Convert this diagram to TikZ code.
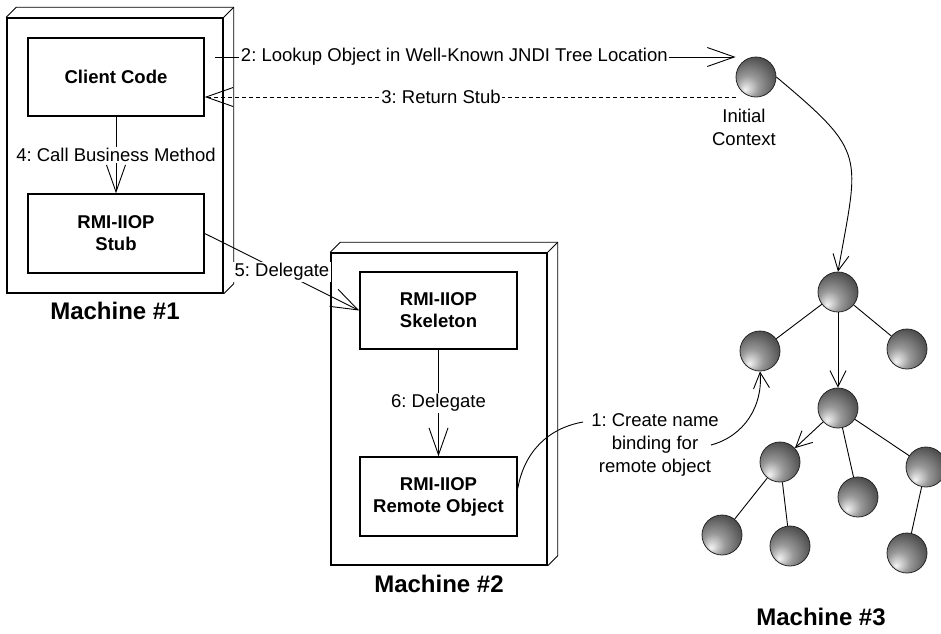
\documentclass[tikz,border=0pt]{standalone}
\usepackage{fontspec}
\setmainfont{Liberation Sans}
\frenchspacing
\usetikzlibrary{positioning,arrows.meta}
\pgfdeclareradialshading{ballshade}{\pgfpoint{-14bp}{-16bp}}{color(0bp)=(black!4); color(14bp)=(black!40); color(36bp)=(black!75); color(56bp)=(black!92)}

\begin{document}
\begin{tikzpicture}[x=1pt, y=1pt,
    box/.style={rectangle, draw, line width=1.5pt, align=center, font=\fontsize{18.5}{22}\selectfont\bfseries},
    machine/.style={rectangle, draw, line width=1.5pt},
    mlabel/.style={font=\fontsize{24}{28}\selectfont\bfseries},
    msg/.style={fill=white, inner sep=1.5pt, font=\fontsize{18.5}{23}\selectfont},
    ball/.style={circle, draw=black!85, line width=0.8pt, minimum size=40pt, inner sep=0pt, shading=ballshade},
    link/.style={line width=0.9pt},
    call/.style={link, -{Straight Barb[length=27pt,width=19pt]}},
    treearr/.style={link, -{Straight Barb[length=16pt,width=16pt]}}]
    \useasboundingbox (0,0) rectangle (941,-633);

    % machines
    \node[machine, minimum width=216pt, minimum height=275pt] (m1) at (115,-155.5) {};
    \node[machine, minimum width=216pt, minimum height=312pt] (m2) at (439,-409) {};
    \foreach \m in {m1,m2} {
        \draw[link] (\m.north west) -- ++(10,10) -- ([shift={(10,10)}]\m.north east)
            -- ([shift={(10,10)}]\m.south east) -- (\m.south east);
        \draw[link] (\m.north east) -- ++(10,10);
    }
    \node[mlabel, below=5pt of m1] (m1lbl) {Machine \#1};
    \node[mlabel, below=6pt of m2] (m2lbl) {Machine \#2};
    \node[mlabel] (m3lbl) at (821,-617) {Machine \#3};

    % components
    \node[box, minimum width=176pt, minimum height=78pt] (client) at (116,-77) {Client Code};
    \node[box, minimum width=176pt, minimum height=79pt] (stub) at (116,-233.5) {RMI-IIOP\\Stub};
    \node[box, minimum width=157pt, minimum height=77pt] (skel) at (438.5,-310.5) {RMI-IIOP\\Skeleton};
    \node[box, minimum width=157pt, minimum height=79pt] (remote) at (438.5,-496.5) {RMI-IIOP\\Remote Object};

    % JNDI tree
    \node[ball] (ctx) at (756,-77) {};
    \node[msg, align=center, fill=none, below=10pt of ctx, xshift=-12pt] (ctxlbl) {Initial\\Context};
    \node[ball] (root) at (838,-292) {};
    \node[ball] (nl) at (760,-351) {};
    \node[ball] (nr) at (907,-349) {};
    \node[ball] (mid) at (838,-408) {};
    \node[ball] (ml) at (780,-462) {};
    \node[ball] (mm) at (858,-497) {};
    \node[ball] (mr) at (926,-467) {};
    \node[ball] (ll) at (722,-535) {};
    \node[ball] (lr) at (790,-546) {};
    \node[ball] (rr) at (907,-553) {};

    \draw[link] (root) -- (nl);
    \draw[link] (root) -- (nr);
    \draw[treearr] (root) -- (mid);
    \draw[treearr] (mid) -- (ml);
    \draw[link] (mid) -- (mm);
    \draw[link] (mid) -- (mr);
    \draw[link] (ml) -- (ll);
    \draw[link] (ml) -- (lr);
    \draw[link] (mr) -- (rr);

    % messages
    \draw[call] ([shift={(10,20)}]client.east) -- node[msg, pos=0.46] {2: Lookup Object in Well-Known JNDI Tree Location} ([yshift=20pt]ctx.west);
    \draw[call, dash pattern=on 4pt off 3pt] ([yshift=-20pt]ctx.west) -- node[msg, pos=0.555] {3: Return Stub} ([yshift=-20pt]client.east);
    \draw[call] (client) -- node[msg] {4: Call Business Method} (stub);
    \draw[call] (stub.east) -- node[msg] {5: Delegate} (skel.west);
    \draw[call] (skel) -- node[msg] {6: Delegate} (remote);
    \draw[treearr] (ctx.east) to[out=-40, in=80, looseness=1.5] (root.north);

    \node[msg, align=center, fill=none, inner xsep=8pt] (bind) at (655,-445) {1: Create name\\binding for\\remote object};
    \draw[link] ([yshift=8pt]remote.east) to[out=80, in=190] ([yshift=23pt]bind.west);
    \draw[treearr] ([xshift=-16pt]bind.east) to[out=15, in=-85] (nl.south);
\end{tikzpicture}
\end{document}
